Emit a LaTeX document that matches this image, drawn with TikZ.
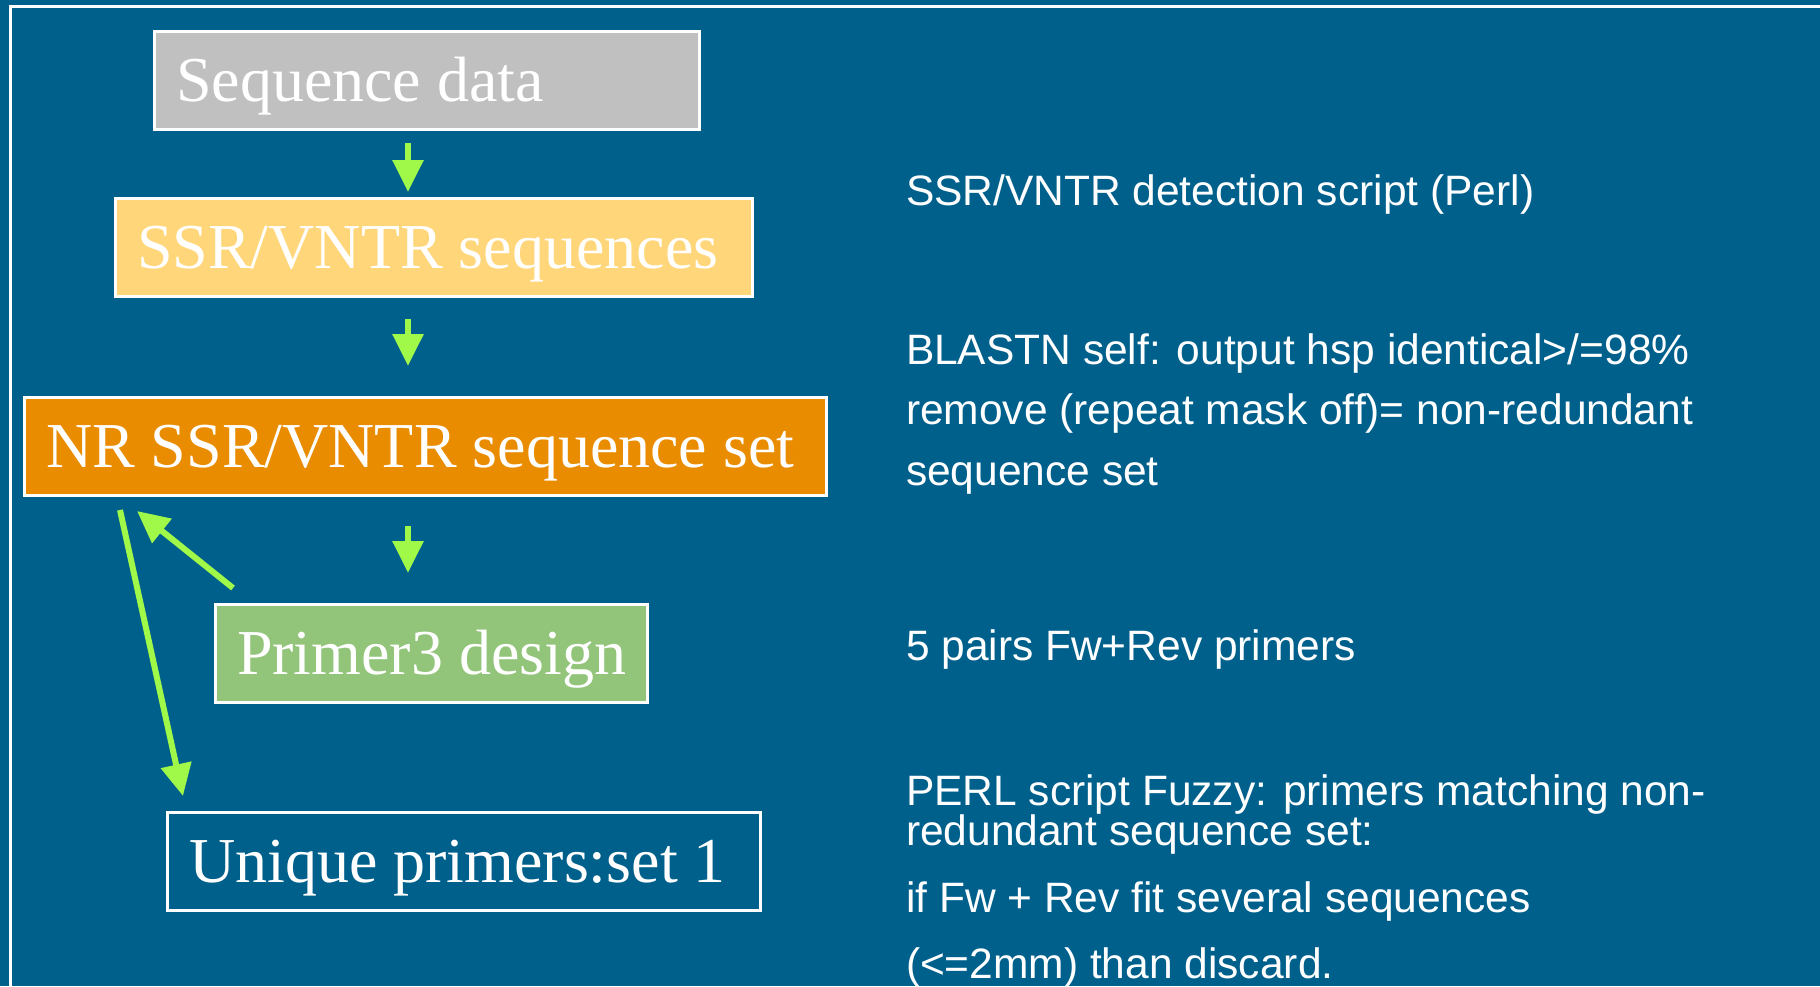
\documentclass[tikz,border=0pt]{standalone}
\usepackage{fontspec}
\setmainfont{Liberation Serif}
\newfontfamily\notefont{Liberation Sans}
\usetikzlibrary{arrows.meta,positioning}
\definecolor{slidebg}{RGB}{0,96,140}
\definecolor{seqgray}{RGB}{192,192,192}
\definecolor{ssrfill}{RGB}{255,214,122}
\definecolor{nrfill}{RGB}{234,140,0}
\definecolor{primfill}{RGB}{146,196,122}
\definecolor{flowgreen}{RGB}{160,248,72}

\begin{document}
\begin{tikzpicture}[x=1pt,y=-1pt,every node/.style={outer sep=0pt},
 stage/.style={draw=white,line width=3pt,text=white,inner xsep=22pt,inner ysep=0pt,
 minimum height=98pt,text height=42pt,text depth=0pt,align=left,
 font=\fontsize{64}{70}\selectfont},
 note/.style={text=white,anchor=base west,inner sep=0pt,align=left,
 font=\notefont\fontsize{42.5}{60.5}\selectfont},
 flow/.style={draw=flowgreen,line width=6pt,-{Triangle[length=32pt,width=30pt]}}]

  \useasboundingbox (0,0) rectangle (1820,986);
  \clip (0,0) rectangle (1820,986);
  \fill[slidebg] (0,0) rectangle (1820,986);
  \draw[white,line width=3pt] (10,6) rectangle (1850,1020);

  \node[stage,fill=seqgray,text width=501pt] (seq) at (426.5,80)
   {\mbox{\spaceskip=0pt Sequence data}};
  \node[stage,fill=ssrfill,text width=593pt,below=69pt of seq,xshift=7pt] (ssr)
   {\mbox{\spaceskip=0pt SSR/VNTR sequences}};
  \node[stage,fill=nrfill,text width=758pt,below=101pt of ssr,xshift=-8.5pt] (nr)
   {\mbox{\spaceskip=0pt NR SSR/VNTR sequence set}};
  \node[stage,fill=primfill,text width=388pt,below=109pt of nr,xshift=6pt] (prim)
   {\mbox{\spaceskip=0pt Primer3 design}};
  \node[stage,text width=549pt,below=110pt of prim,xshift=32.5pt] (uniq)
   {\mbox{\spaceskip=0pt Unique primers:set 1}};

  \coordinate (ax) at (408,0);
  \draw[flow,shorten <=14pt,shorten >=6pt] (seq.south -| ax) -- (ssr.north -| ax);
  \draw[flow,shorten <=23pt,shorten >=31pt] (ssr.south -| ax) -- (nr.north -| ax);
  \draw[flow,shorten <=31pt,shorten >=31pt] (nr.south -| ax) -- (prim.north -| ax);
  \draw[flow] ([shift={(18,-16)}]prim.north west) -- ([shift={(113,16)}]nr.south west);
  \draw[flow] ([shift={(96,15)}]nr.south west) -- ([shift={(16,-16)}]uniq.north west);

  \node[note] (n1) at (906,205) {SSR/VNTR detection script (Perl)};
  \node[note] (n2) at (906,485) {BLASTN self: output hsp identical>/=98\%\\
   remove (repeat mask off)= non-redundant\\sequence set};
  \node[note] (n3) at (906,660) {5 pairs Fw+Rev primers};
  \node[note,font=\notefont\fontsize{42.5}{40}\selectfont] (n4) at (906,845)
   {PERL script Fuzzy: primers matching non-\\redundant sequence set:};
  \node[note,font=\notefont\fontsize{42.5}{66}\selectfont] (n5) at (906,978)
   {if Fw + Rev fit several sequences\\(<=2mm) than discard.};

\end{tikzpicture}
\end{document}
